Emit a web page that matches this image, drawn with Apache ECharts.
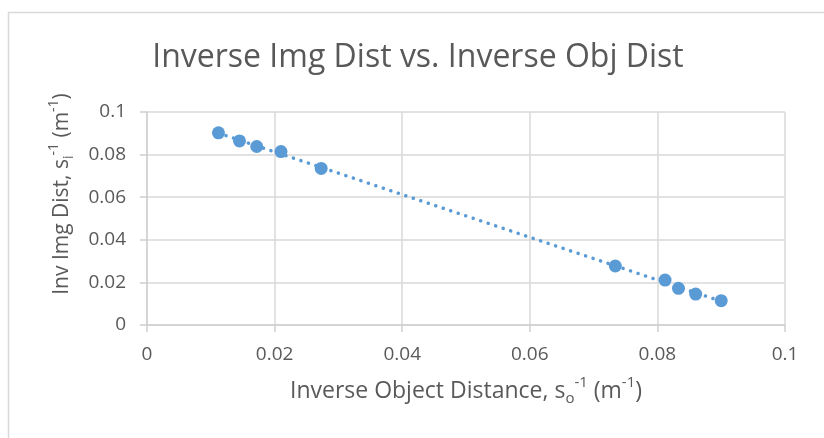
<!DOCTYPE html>
<html>
<head>
<meta charset="utf-8">
<script src="https://cdn.jsdelivr.net/npm/echarts@6/dist/echarts.min.js"></script>
<style>
  html, body { margin: 0; padding: 0; background: #fff; }
  #chart { width: 824px; height: 438px; }
</style>
</head>
<body>
<div id="chart"></div>
<script>
// inverse object distance (1/m)
const objInv = [0.0112, 0.0145, 0.0172, 0.0210, 0.0273, 0.0734, 0.0812, 0.0833, 0.0860, 0.0900];
// inverse image distance (1/m)
const imgInv = [0.0902, 0.0864, 0.0838, 0.0814, 0.0735, 0.0277, 0.0211, 0.0172, 0.0145, 0.0114];

const textColor = '#595959';
const blue = '#5B9BD5';
const font = 'Open Sans';

const points = objInv.map((x, i) => [x, imgInv[i]]);

// linear trendline (least squares) over the data range
const n = objInv.length;
const mx = objInv.reduce((a, b) => a + b, 0) / n;
const my = imgInv.reduce((a, b) => a + b, 0) / n;
let sxy = 0, sxx = 0;
objInv.forEach((x, i) => {
  sxy += (x - mx) * (imgInv[i] - my);
  sxx += (x - mx) * (x - mx);
});
const slope = sxy / sxx;
const icpt = my - slope * mx;
const xMin = Math.min(...objInv);
const xMax = Math.max(...objInv);
const trend = [[xMin, icpt + slope * xMin], [xMax, icpt + slope * xMax]];

function nameRich(size) {
  const lh = size + 8;
  const small = Math.round(size * 0.65);
  return {
    t: { fontFamily: font, fontSize: size, fill: textColor, lineHeight: lh },
    sup: { fontFamily: font, fontSize: small, fill: textColor, verticalAlign: 'top', lineHeight: lh },
    sub: { fontFamily: font, fontSize: small, fill: textColor, verticalAlign: 'bottom', lineHeight: lh }
  };
}

const chart = echarts.init(document.getElementById('chart'));
chart.setOption({
  animation: false,
  grid: { left: 147, right: 39, top: 112, bottom: 113 },
  graphic: [
    {
      type: 'rect',
      shape: { x: 8.5, y: 12.5, width: 900, height: 600 },
      style: { fill: 'none', stroke: '#D9D9D9', lineWidth: 1.5 },
      silent: true
    },
    {
      type: 'text',
      x: 418,
      y: 58,
      style: {
        text: 'Inverse Img Dist vs. Inverse Obj Dist',
        fontFamily: font,
        fontSize: 32,
        fill: textColor,
        align: 'center',
        verticalAlign: 'middle'
      }
    },
    {
      type: 'text',
      x: 466,
      y: 391,
      style: {
        text: '{t|Inverse Object Distance, s}{sub|o}{sup|-1}{t| (m}{sup|-1}{t|)}',
        rich: nameRich(23),
        fontFamily: font,
        fontSize: 23,
        fill: textColor,
        align: 'center',
        verticalAlign: 'middle'
      }
    },
    {
      type: 'text',
      x: 62,
      y: 194,
      rotation: Math.PI / 2,
      style: {
        text: '{t|Inv Img Dist, s}{sub|i}{sup|-1}{t| (m}{sup|-1}{t|)}',
        rich: nameRich(21),
        fontFamily: font,
        fontSize: 21,
        fill: textColor,
        align: 'center',
        verticalAlign: 'middle'
      }
    }
  ],
  xAxis: {
    type: 'value',
    min: 0,
    max: 0.1,
    interval: 0.02,
    axisLine: { show: true, lineStyle: { color: '#D0D0D0', width: 1.5 } },
    axisTick: { show: true, length: 7, lineStyle: { color: '#D0D0D0', width: 1.5 } },
    splitLine: { show: true, lineStyle: { color: '#D9D9D9', width: 1.5 } },
    axisLabel: {
      margin: 20,
      fontFamily: font,
      fontSize: 19,
      color: textColor,
      formatter: (v) => String(+v.toFixed(2))
    }
  },
  yAxis: {
    type: 'value',
    min: 0,
    max: 0.1,
    interval: 0.02,
    axisLine: { show: true, lineStyle: { color: '#D0D0D0', width: 1.5 } },
    axisTick: { show: true, length: 7, lineStyle: { color: '#D0D0D0', width: 1.5 } },
    splitLine: { show: true, lineStyle: { color: '#D9D9D9', width: 1.5 } },
    axisLabel: {
      margin: 21,
      fontFamily: font,
      fontSize: 19,
      color: textColor,
      formatter: (v) => String(+v.toFixed(2))
    }
  },
  series: [
    {
      type: 'line',
      data: trend,
      symbol: 'none',
      z: 2,
      lineStyle: { color: blue, width: 3.5, type: [0.1, 7.8], cap: 'round' }
    },
    {
      type: 'scatter',
      data: points,
      symbolSize: 13,
      z: 3,
      itemStyle: { color: blue, opacity: 1 }
    }
  ]
});
</script>
</body>
</html>
